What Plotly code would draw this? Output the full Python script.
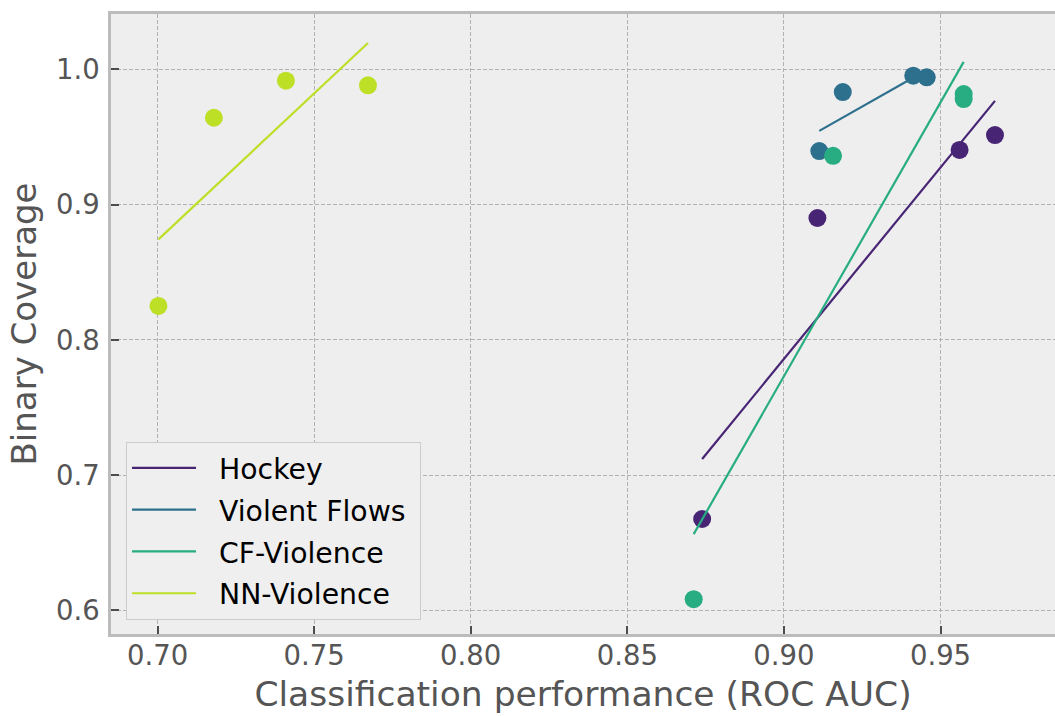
import numpy as np
import plotly.graph_objects as go

# Datasets and their (ROC AUC, binary coverage) results
series_names = ["Hockey", "Violent Flows", "CF-Violence", "NN-Violence"]
series_colors = ["#482475", "#2d708e", "#27ad81", "#bddf26"]

hockey_auc = [0.8739, 0.9107, 0.9561, 0.9674]
hockey_cov = [0.6676, 0.8901, 0.9404, 0.9514]

violent_flows_auc = [0.9113, 0.9188, 0.9413, 0.9456]
violent_flows_cov = [0.9396, 0.9832, 0.9953, 0.9941]

cf_violence_auc = [0.8712, 0.9157, 0.9574, 0.9574]
cf_violence_cov = [0.6083, 0.9361, 0.9817, 0.9780]

nn_violence_auc = [0.7003, 0.7180, 0.7410, 0.7672]
nn_violence_cov = [0.8251, 0.9642, 0.9916, 0.9882]

x_ticks = [0.70, 0.75, 0.80, 0.85, 0.90, 0.95]
y_ticks = [0.6, 0.7, 0.8, 0.9, 1.0]

all_auc = [hockey_auc, violent_flows_auc, cf_violence_auc, nn_violence_auc]
all_cov = [hockey_cov, violent_flows_cov, cf_violence_cov, nn_violence_cov]

FONT = "DejaVu Sans"
TEXT_GREY = "#555555"
NBSP = "\u00a0"

fig = go.Figure()
for name, color, xs, ys in zip(series_names, series_colors, all_auc, all_cov):
    xs = np.asarray(xs)
    ys = np.asarray(ys)
    # scatter of the individual results
    fig.add_trace(go.Scatter(
        x=xs, y=ys, mode="markers",
        marker=dict(size=18, color=color, line=dict(width=0)),
        showlegend=False, legendgroup=name, hoverinfo="x+y", name=name,
    ))
    # least-squares trend across the observed AUC range
    slope, intercept = np.polyfit(xs, ys, 1)
    fit_x = np.array([xs.min(), xs.max()])
    fig.add_trace(go.Scatter(
        x=fit_x, y=slope * fit_x + intercept, mode="lines",
        line=dict(color=color, width=2.2),
        # a little extra room between the legend swatch and its label
        name=NBSP * 2 + name + NBSP, legendgroup=name,
    ))

axis_common = dict(
    showline=True, linecolor="#bcbcbc", linewidth=2.5,
    ticks="inside", ticklen=8, tickwidth=1.5, tickcolor="#4d4d4d",
    showgrid=True, gridcolor="#b2b2b2", gridwidth=1, griddash="4px,2px",
    zeroline=False,
    tickfont=dict(family=FONT, size=27.5, color=TEXT_GREY),
)

fig.update_xaxes(
    **axis_common,
    range=[0.68515, 0.98656],
    tickvals=x_ticks, ticktext=[f"{v:.2f}" for v in x_ticks],
    mirror=True,
    ticklabelstandoff=-5,
    title=dict(text="Classification performance (ROC AUC)",
               font=dict(family=FONT, size=34.5, color=TEXT_GREY), standoff=13),
)
fig.update_yaxes(
    **axis_common,
    range=[0.5826, 1.0409],
    tickvals=y_ticks, ticktext=[f"{v:.1f}" for v in y_ticks],
    ticklabelstandoff=3,
    title=dict(text="Binary Coverage",
               font=dict(family=FONT, size=34, color=TEXT_GREY), standoff=10),
)

fig.update_layout(
    width=1055, height=716,
    margin=dict(l=111, r=0, t=14, b=82),
    paper_bgcolor="white",
    plot_bgcolor="#eeeeee",
    font=dict(family=FONT),
    legend=dict(
        x=0.0159, y=0.0226, xanchor="left", yanchor="bottom",
        bgcolor="#efefef", bordercolor="#cccccc", borderwidth=1,
        font=dict(family=FONT, size=28.3, color="black"),
        tracegroupgap=2, itemwidth=64,
    ),
)

fig.write_html("out.html")
